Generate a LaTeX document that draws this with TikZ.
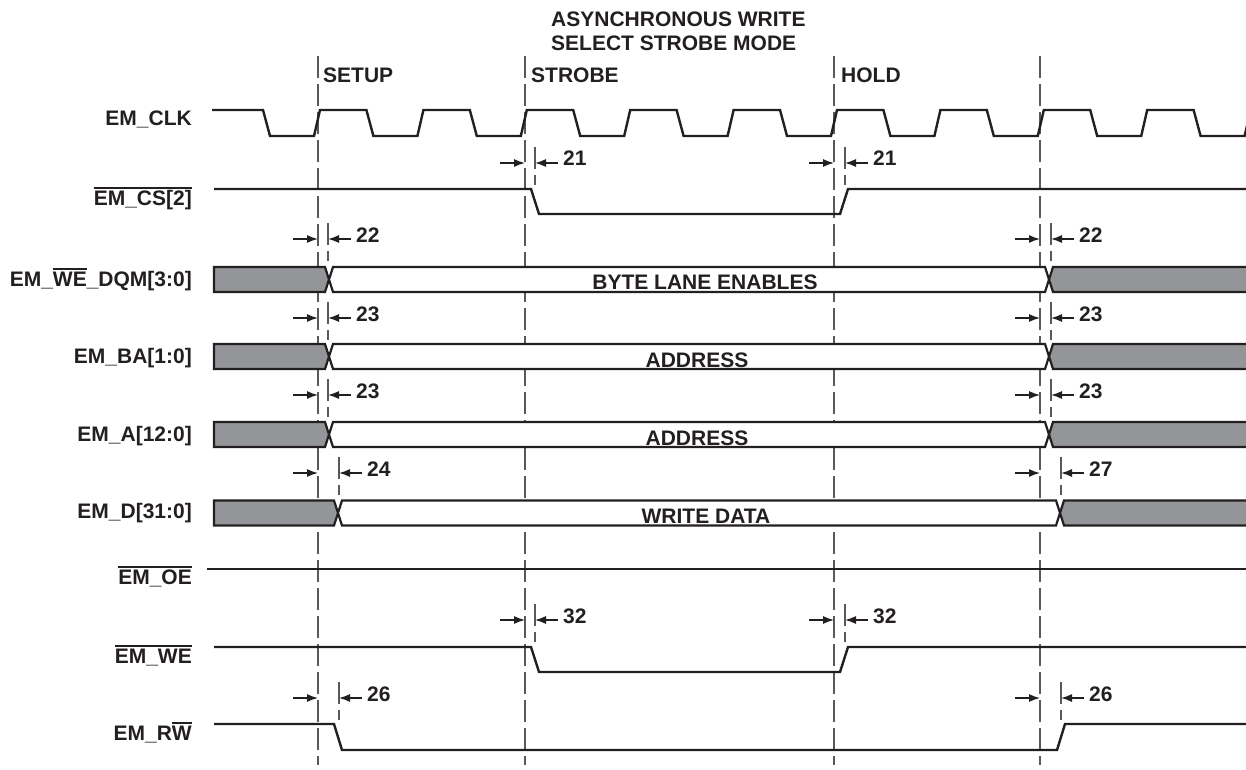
\documentclass[tikz,border=0pt]{standalone}
\usepackage{fontspec}
\setmainfont{Liberation Sans}
\usetikzlibrary{arrows.meta}
\definecolor{sigblack}{HTML}{231F20}
\definecolor{busgray}{HTML}{939598}
\newlength{\ovlwd}
\newcommand{\ovl}[1]{\settowidth{\ovlwd}{#1}\rlap{\rule[16pt]{\ovlwd}{1.8pt}}#1}

\begin{document}
\begin{tikzpicture}[x=1pt,y=-1pt]
	\tikzset{every node/.style = {font=\fontsize{21}{24}\selectfont\bfseries, text=sigblack, inner sep=0pt}}
	\tikzset{signal/.style = {draw=sigblack, line width=2.4pt, line join=miter}}
	\tikzset{bus/.style = {draw=sigblack, line width=2.2pt, line join=miter}}
	\tikzset{phase/.style = {draw=black!65, line width=1.2pt, dash pattern=on 22pt off 6pt}}
	\tikzset{tarrow/.style = {draw=sigblack, line width=1.3pt, -{Latex[length=11pt,width=8pt]}}}
	\useasboundingbox (0,0) rectangle (1246,770);
	\clip (0,0) rectangle (1246,770);
	%title
	\node[anchor=base west] (title1) at (551,27) {ASYNCHRONOUS WRITE};
	\node[anchor=base west] (title2) at (551,51) {SELECT STROBE MODE};
	%phases
	\foreach \x in {318,525,834,1040}
		\draw[phase] (\x,56) -- (\x,765);
	\node[anchor=base west] (setup) at (323,83) {SETUP};
	\node[anchor=base west] (strobe) at (531,83) {STROBE};
	\node[anchor=base west] (hold) at (841,83) {HOLD};
	%signal names
	\node[anchor=base east] (clk) at (192,126) {EM\_CLK};
	\node[anchor=base east] (cs) at (192,205) {\ovl{EM\_CS[2]}};
	\node[anchor=base east] (dqm) at (192,286) {EM\_\ovl{WE}\_DQM[3:0]};
	\node[anchor=base east] (ba) at (192,363) {EM\_BA[1:0]};
	\node[anchor=base east] (addr) at (192,441) {EM\_A[12:0]};
	\node[anchor=base east] (data) at (192,518) {EM\_D[31:0]};
	\node[anchor=base east] (oe) at (192,584) {\ovl{EM\_OE}};
	\node[anchor=base east] (we) at (192,663) {\ovl{EM\_WE}};
	\node[anchor=base east] (rw) at (192,740) {EM\_R\ovl{W}};
	%buses
	\foreach \yc/\xl/\xr/\cx/\tb/\txt/\nm in {279.5/329/1049/705/289/BYTE LANE ENABLES/lanes,
			356.5/329/1049/697/367/ADDRESS/bankaddr, 434.5/329/1049/697/445/ADDRESS/rowaddr,
			513/338/1060/706/523/WRITE DATA/wdata}
	{
		\draw[bus, fill=busgray] (214,\yc-12.5) -- (\xl-4,\yc-12.5) -- (\xl,\yc) -- (\xl-4,\yc+12.5) -- (214,\yc+12.5) -- cycle;
		\draw[bus, fill=white] (\xl+4,\yc-12.5) -- (\xr-4,\yc-12.5) -- (\xr,\yc) -- (\xr-4,\yc+12.5) -- (\xl+4,\yc+12.5) -- (\xl,\yc) -- cycle;
		\draw[bus, fill=busgray] (1256,\yc-12.5) -- (\xr+4,\yc-12.5) -- (\xr,\yc) -- (\xr+4,\yc+12.5) -- (1256,\yc+12.5);
		\node[anchor=base] (\nm) at (\cx,\tb) {\txt};
	}
	%waveforms
	\draw[signal] (212,110) \foreach \k in {0,...,9} {
		-- ({263+103.4*\k},110) -- ({270+103.4*\k},136) -- ({314+103.4*\k},136) -- ({320+103.4*\k},110) };
	\draw[signal] (214,189) -- (531,189) -- (539,214) -- (840,214) -- (848,189) -- (1246,189);
	\draw[signal] (207,569) -- (1246,569);
	\draw[signal] (214,647) -- (531,647) -- (539,672) -- (840,672) -- (848,647) -- (1246,647);
	\draw[signal] (214,724) -- (334,724) -- (342,750) -- (1057,750) -- (1065,724) -- (1246,724);
	%timing marks
	\foreach \y/\m/\s/\t [count=\i] in {163/525/535/21, 163/834/845/21, 239/318/328/22, 239/1040/1051/22,
			318/318/328/23, 318/1040/1051/23, 395/318/328/23, 395/1040/1051/23, 473/318/339/24,
			473/1040/1061/27, 620/525/535/32, 620/834/845/32, 698/318/339/26, 698/1040/1061/26}
	{
		\coordinate (from\i) at (\m-25,\y);
		\coordinate (main\i) at (\m,\y);
		\coordinate (mark\i) at (\s,\y);
		\coordinate (back\i) at (\s+23,\y);
		\draw[phase] (\s,\y-16) -- (\s,\y+22);
		\draw[tarrow] (from\i) -- (main\i);
		\draw[tarrow] (back\i) -- (mark\i);
		\node[anchor=base west] (t\i) at (\s+28,\y+3) {\t};
	}
\end{tikzpicture}
\end{document}
